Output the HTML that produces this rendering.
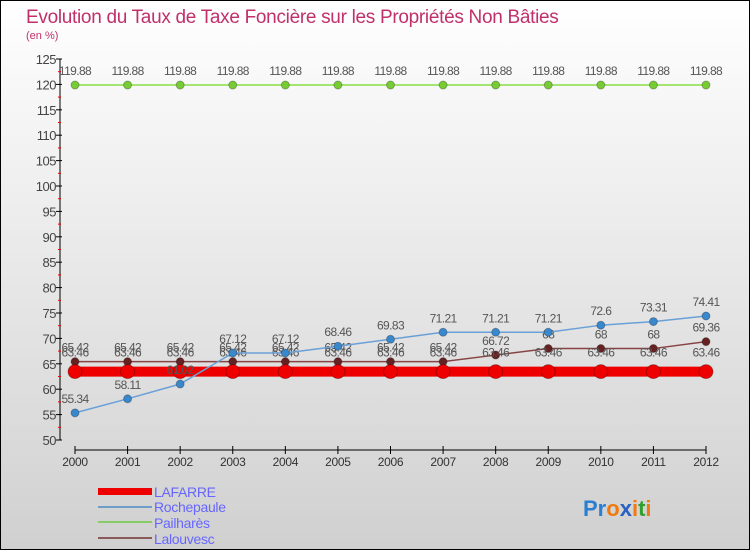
<!DOCTYPE html>
<html><head><meta charset="utf-8"><style>
body{margin:0;}
#c{width:750px;height:550px;position:relative;overflow:hidden;font-family:"Liberation Sans",sans-serif;}
</style></head><body>
<div id="c">
<svg id="s" width="750" height="550" xmlns="http://www.w3.org/2000/svg">
<defs><linearGradient id="bg" x1="0" y1="0" x2="0" y2="1"><stop offset="0" stop-color="#ffffff"/><stop offset="1" stop-color="#d0d0d0"/></linearGradient></defs>
<rect x="0.5" y="0.5" width="749" height="549" fill="url(#bg)" stroke="#000"/>
<text x="26" y="23" font-size="19" fill="#c0306a" letter-spacing="-0.3">Evolution du Taux de Taxe Foncière sur les Propriétés Non Bâties</text>
<text x="26" y="39" font-size="11" fill="#c0306a">(en %)</text>
<g id="axes"></g><g id="marks"></g>
<g>
<rect x="98" y="488" width="54" height="7" fill="#ee0000"/>
<line x1="98" y1="507" x2="152" y2="507" stroke="#6e9ec8" stroke-width="2"/>
<line x1="98" y1="522" x2="152" y2="522" stroke="#88cc66" stroke-width="2"/>
<line x1="98" y1="538" x2="152" y2="538" stroke="#8a5a5a" stroke-width="2"/>
<g font-size="14" fill="#6666ff" letter-spacing="-0.3">
<text x="154" y="497">LAFARRE</text>
<text x="154" y="512">Rochepaule</text>
<text x="154" y="528">Pailharès</text>
<text x="154" y="544">Lalouvesc</text>
</g></g>
<g font-size="22" font-weight="bold">
<text x="583" y="516"><tspan fill="#2a7fd4">Pr</tspan><tspan fill="#f07a10">o</tspan><tspan fill="#2a60c0">x</tspan><tspan fill="#f07a10">i</tspan><tspan fill="#30a030">t</tspan><tspan fill="#f07a10">i</tspan></text>
</g>
</svg></div>
<script>
const years=[2000,2001,2002,2003,2004,2005,2006,2007,2008,2009,2010,2011,2012];
const yTicks=[50,55,60,65,70,75,80,85,90,95,100,105,110,115,120,125];
const lafarre=[63.46,63.46,63.46,63.46,63.46,63.46,63.46,63.46,63.46,63.46,63.46,63.46,63.46];
const rochepaule=[55.34,58.11,61.02,67.12,67.12,68.46,69.83,71.21,71.21,71.21,72.6,73.31,74.41];
const pailhares=[119.88,119.88,119.88,119.88,119.88,119.88,119.88,119.88,119.88,119.88,119.88,119.88,119.88];
const lalouvesc=[65.42,65.42,65.42,65.42,65.42,65.42,65.42,65.42,66.72,68,68,68,69.36];
const NS="http://www.w3.org/2000/svg";
const X=i=>75+i*(706-75)/(years.length-1);
const Y=v=>440-(v-50)*(440-59)/75;
function mk(t,a,p){const e=document.createElementNS(NS,t);for(const k in a)e.setAttribute(k,a[k]);p.appendChild(e);return e;}
const ax=document.getElementById('axes'),mg=document.getElementById('marks');
mk('line',{x1:60,y1:59,x2:60,y2:440,stroke:'#000'},ax);
mk('line',{x1:75,y1:450,x2:706,y2:450,stroke:'#000'},ax);
yTicks.forEach(v=>{
 mk('line',{x1:56,y1:Y(v),x2:62,y2:Y(v),stroke:'#000'},ax);
 if(v<125)mk('line',{x1:58,y1:Y(v+2.5),x2:61,y2:Y(v+2.5),stroke:'#e00'},ax);
 const t=mk('text',{x:56,y:Y(v)+5,'text-anchor':'end','font-size':13,fill:'#444','letter-spacing':-0.5},ax);t.textContent=v;
 
 
});
years.forEach((y,i)=>{
 mk('line',{x1:X(i),y1:446,x2:X(i),y2:454,stroke:'#000'},ax);
 const t=mk('text',{x:X(i),y:466,'text-anchor':'middle','font-size':12,fill:'#333','letter-spacing':-0.3},ax);t.textContent=y;
 
 
});
function series(name,vals,color,w,r,dotFill,off){
 const g=mk('g',{},mg);
 
 
 mk('polyline',{points:vals.map((v,i)=>X(i)+','+Y(v)).join(' '),fill:'none',stroke:color,'stroke-width':w},g);
 vals.forEach((v,i)=>{
  const c=mk('circle',{cx:X(i),cy:Y(v),r:r,fill:dotFill,stroke:'#00000044'},g);
  
  
  const t=mk('text',{x:X(i),y:Y(v)-off,'text-anchor':'middle','font-size':12,fill:'#555','letter-spacing':-0.6},g);t.textContent=v;
  
  
 });
}
series('pailhares',pailhares,'#88dd44',1.5,4,'#77cc33',10);
series('lalouvesc',lalouvesc,'#884444',1.5,4,'#662222',10);
series('lafarre',lafarre,'#ee0000',10,7,'#ee0000',15);
series('rochepaule',rochepaule,'#6aa0d8',1.5,4,'#3a88cc',10);
</script>
</body></html>
